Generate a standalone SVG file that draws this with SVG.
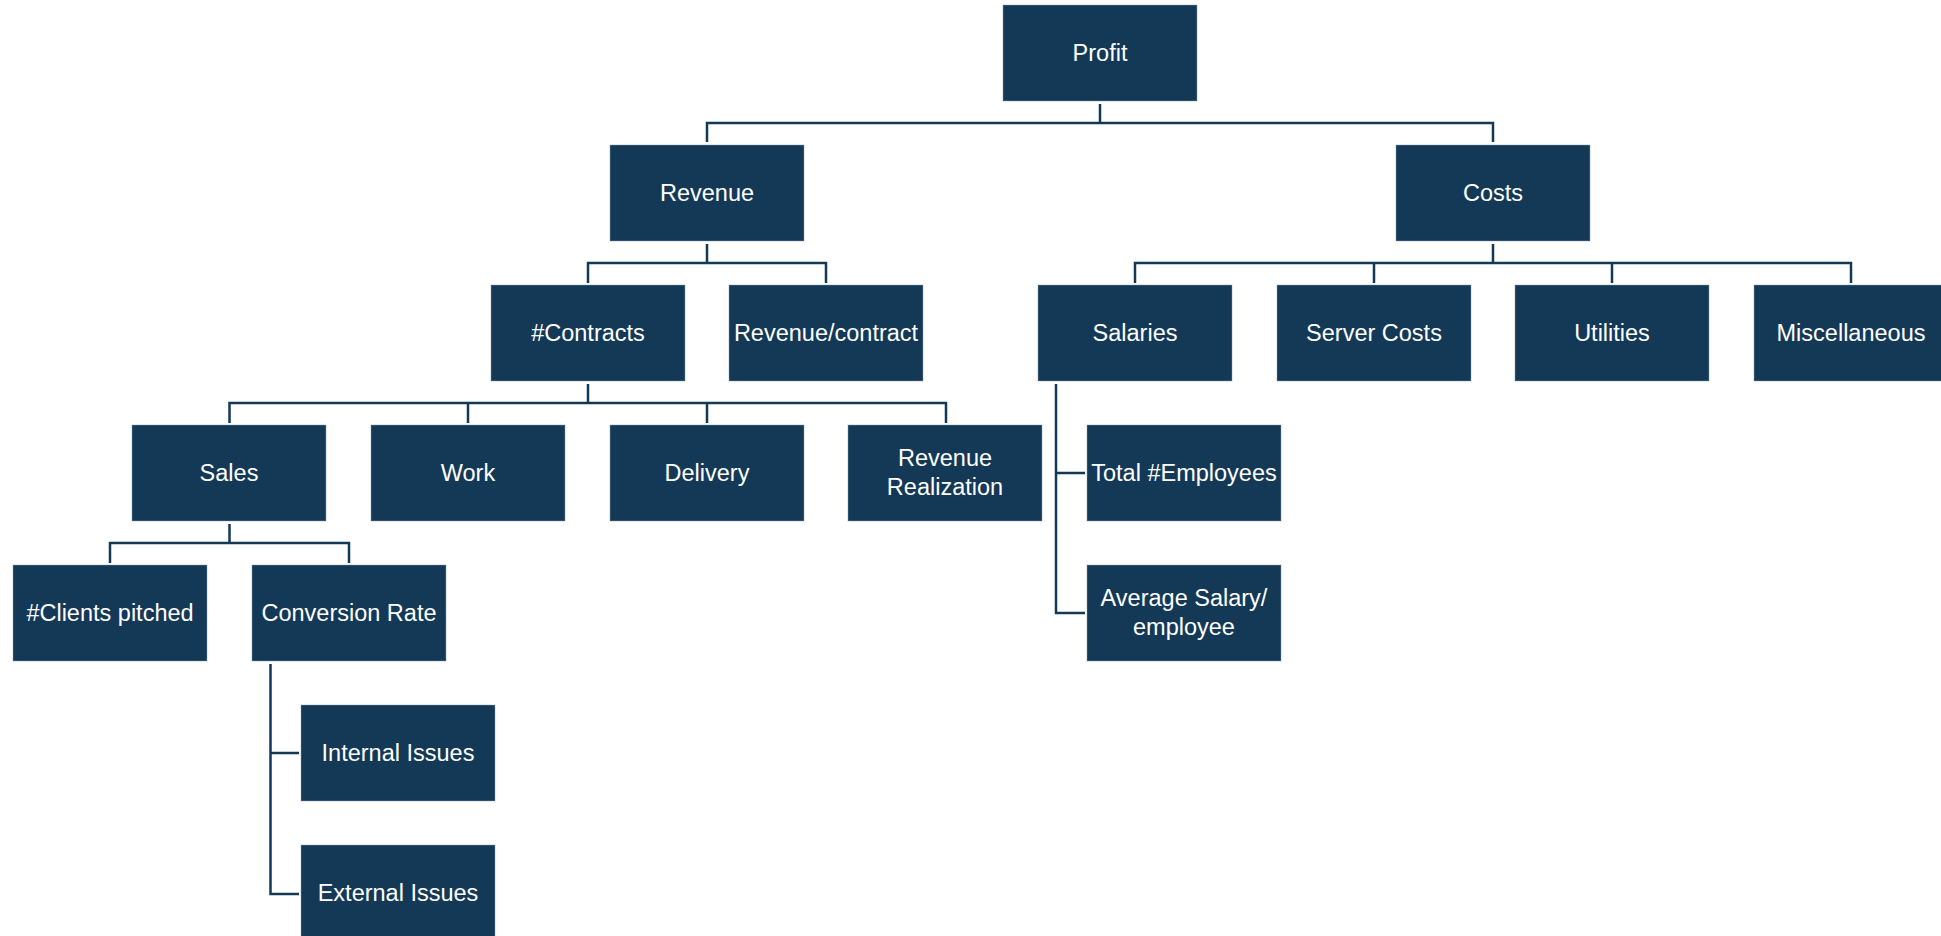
<svg xmlns="http://www.w3.org/2000/svg" width="1941" height="936" viewBox="0 0 1941 936">
<style>
.box{fill:#133957;stroke:#8aa0b4;stroke-width:0.8;stroke-opacity:0.6}
.t{font-family:"Liberation Sans",Arial,sans-serif;font-size:23.5px;fill:#ffffff;text-anchor:middle}
.c{fill:none;stroke:#133957;stroke-width:2.5;stroke-linejoin:miter}
</style>
<rect width="1941" height="936" fill="#ffffff"/>
<g id="connectors">
<path class="c" d="M1100,104V123M707,142V123H1493V142"/>
<path class="c" d="M707,244V263M588,283V263H826V283"/>
<path class="c" d="M588,384V403M229.5,423V403H946V423M468,403V423M707,403V423"/>
<path class="c" d="M1493,244V263M1135,283V263H1851V283M1374,263V283M1612,263V283"/>
<path class="c" d="M229.5,524V543M110,563V543H349V563"/>
<path class="c" d="M270.5,664V894H299M270.5,753H299"/>
<path class="c" d="M1056,384V613H1085M1056,473H1085"/>
</g>
<g id="profit"><rect class="box" x="1003" y="5" width="194" height="96"/><text class="t" x="1100" y="61">Profit</text></g>
<g id="revenue"><rect class="box" x="610" y="145" width="194" height="96"/><text class="t" x="707" y="201">Revenue</text></g>
<g id="costs"><rect class="box" x="1396" y="145" width="194" height="96"/><text class="t" x="1493" y="201">Costs</text></g>
<g id="contracts"><rect class="box" x="491" y="285" width="194" height="96"/><text class="t" x="588" y="341">#Contracts</text></g>
<g id="revenue-contract"><rect class="box" x="729" y="285" width="194" height="96"/><text class="t" x="826" y="341">Revenue/contract</text></g>
<g id="salaries"><rect class="box" x="1038" y="285" width="194" height="96"/><text class="t" x="1135" y="341">Salaries</text></g>
<g id="server-costs"><rect class="box" x="1277" y="285" width="194" height="96"/><text class="t" x="1374" y="341">Server Costs</text></g>
<g id="utilities"><rect class="box" x="1515" y="285" width="194" height="96"/><text class="t" x="1612" y="341">Utilities</text></g>
<g id="miscellaneous"><rect class="box" x="1754" y="285" width="194" height="96"/><text class="t" x="1851" y="341">Miscellaneous</text></g>
<g id="sales"><rect class="box" x="132" y="425" width="194" height="96"/><text class="t" x="229" y="481">Sales</text></g>
<g id="work"><rect class="box" x="371" y="425" width="194" height="96"/><text class="t" x="468" y="481">Work</text></g>
<g id="delivery"><rect class="box" x="610" y="425" width="194" height="96"/><text class="t" x="707" y="481">Delivery</text></g>
<g id="revenue-realization"><rect class="box" x="848" y="425" width="194" height="96"/><text class="t" x="945" y="466">Revenue</text><text class="t" x="945" y="495">Realization</text></g>
<g id="total-employees"><rect class="box" x="1087" y="425" width="194" height="96"/><text class="t" x="1184" y="481">Total #Employees</text></g>
<g id="clients-pitched"><rect class="box" x="13" y="565" width="194" height="96"/><text class="t" x="110" y="621">#Clients pitched</text></g>
<g id="conversion-rate"><rect class="box" x="252" y="565" width="194" height="96"/><text class="t" x="349" y="621">Conversion Rate</text></g>
<g id="average-salary"><rect class="box" x="1087" y="565" width="194" height="96"/><text class="t" x="1184" y="606">Average Salary/</text><text class="t" x="1184" y="635">employee</text></g>
<g id="internal-issues"><rect class="box" x="301" y="705" width="194" height="96"/><text class="t" x="398" y="761">Internal Issues</text></g>
<g id="external-issues"><rect class="box" x="301" y="845" width="194" height="96"/><text class="t" x="398" y="901">External Issues</text></g>
</svg>
